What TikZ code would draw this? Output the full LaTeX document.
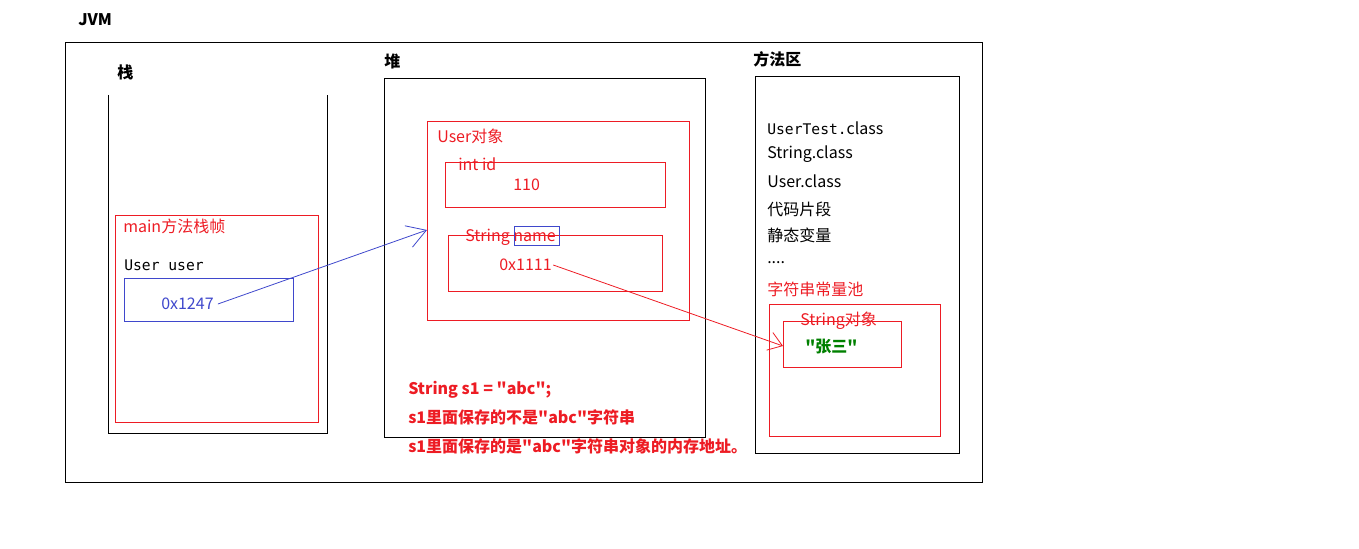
\documentclass[tikz,border=0pt]{standalone}
\usepackage{fontspec}
\setmainfont{Noto Sans CJK SC}[Ligatures=TeXOff]
\newfontfamily\monof{DejaVu Sans Mono}
\usetikzlibrary{arrows.meta}
\definecolor{pred}{RGB}{237,28,36}
\definecolor{pblue}{RGB}{63,72,204}
\definecolor{pgreen}{RGB}{0,128,0}
\begin{document}
\begin{tikzpicture}[x=0.75pt,y=-0.75pt,
  box/.style={draw,line width=0.75pt},
  rbox/.style={draw=pred,line width=0.75pt},
  bbox/.style={draw=pblue,line width=0.75pt},
  txt/.style={anchor=west,inner sep=0pt,font=\fontsize{12}{14}\selectfont},
  title/.style={txt,font=\fontsize{12}{14}\selectfont\bfseries},
  rtxt/.style={txt,text=pred},
  btxt/.style={txt,text=pred,font=\fontsize{12}{14}\selectfont\bfseries},
  mtxt/.style={anchor=west,inner sep=0pt,font=\monof\fontsize{11}{13}\selectfont},
  barb/.style={-{Straight Barb[length=14pt,width=17pt]},line width=0.6pt},
  sbarb/.style={-{Straight Barb[length=10pt,width=14pt]},line width=0.6pt}
]
\useasboundingbox (0,0) rectangle (1359,549);
% JVM
\node[title] (tjvm) at (78,20) {JVM};
\draw[box] (65,43) rectangle (982,482);
% stack
\node[title] (tstack) at (117,72) {栈};
\draw[box] (108,95) -- (108,433) -- (327,433) -- (327,95);
\draw[rbox] (115,215) rectangle (318,422);
\node[rtxt] (tmain) at (123,226) {main方法栈帧};
\node[mtxt] (tuser) at (124,265) {User user};
\draw[bbox] (124,278) rectangle (293,321);
\node[txt,text=pblue] (v1247) at (161,304) {0x1247};
% heap
\node[title] (theap) at (384,61) {堆};
\draw[box] (384,79) rectangle (705,437);
\draw[rbox] (427,122) rectangle (689,320);
\node[rtxt] (tuobj) at (437,136) {User对象};
\draw[rbox] (445,163) rectangle (665,207);
\node[rtxt] (tid) at (458,164) {int id};
\node[rtxt] (v110) at (513,185) {110};
\draw[rbox] (448,235) rectangle (662,291);
\node[rtxt] (tname) at (465,237) {String name};
\draw[bbox] (514,226) rectangle (559,245);
\node[rtxt] (v1111) at (499,265) {0x1111};
% method area
\node[title] (tmeth) at (753,59) {方法区};
\draw[box] (755,77) rectangle (959,453);
\node[txt] (c1) at (767,128) {{\monof\fontsize{11}{13}\selectfont UserTest.}class};
\node[txt] (c2) at (767,154) {String.class};
\node[txt] (c3) at (767,181) {User.class};
\node[txt] (c4) at (767,209) {代码片段};
\node[txt] (c5) at (767,235) {静态变量};
\node[txt] (c6) at (767,263) {....};
\node[rtxt] (c7) at (767,289) {字符串常量池};
\draw[rbox] (769,304) rectangle (940,436);
\draw[rbox] (783,321) rectangle (901,367);
\node[rtxt] (tsobj) at (800,321) {String对象};
\node[txt,text=pgreen,font=\fontsize{12}{14}\selectfont\bfseries] (vzs) at (805,347) {"张三"};
% bottom text
\node[btxt] (b1) at (408,390) {String s1 = "abc";};
\node[btxt] (b2) at (408,417) {s1里面保存的不是"abc"字符串};
\node[btxt] (b3) at (408,446) {s1里面保存的是"abc"字符串对象的内存地址。};
% arrows
\coordinate (a1) at (427,230);
\coordinate (a2) at (783,346);
\draw[barb,draw=pblue] ([xshift=3pt]v1247.east) -- (a1);
\draw[sbarb,draw=pred] ([xshift=1pt]v1111.east) -- (a2);
\end{tikzpicture}
\end{document}
